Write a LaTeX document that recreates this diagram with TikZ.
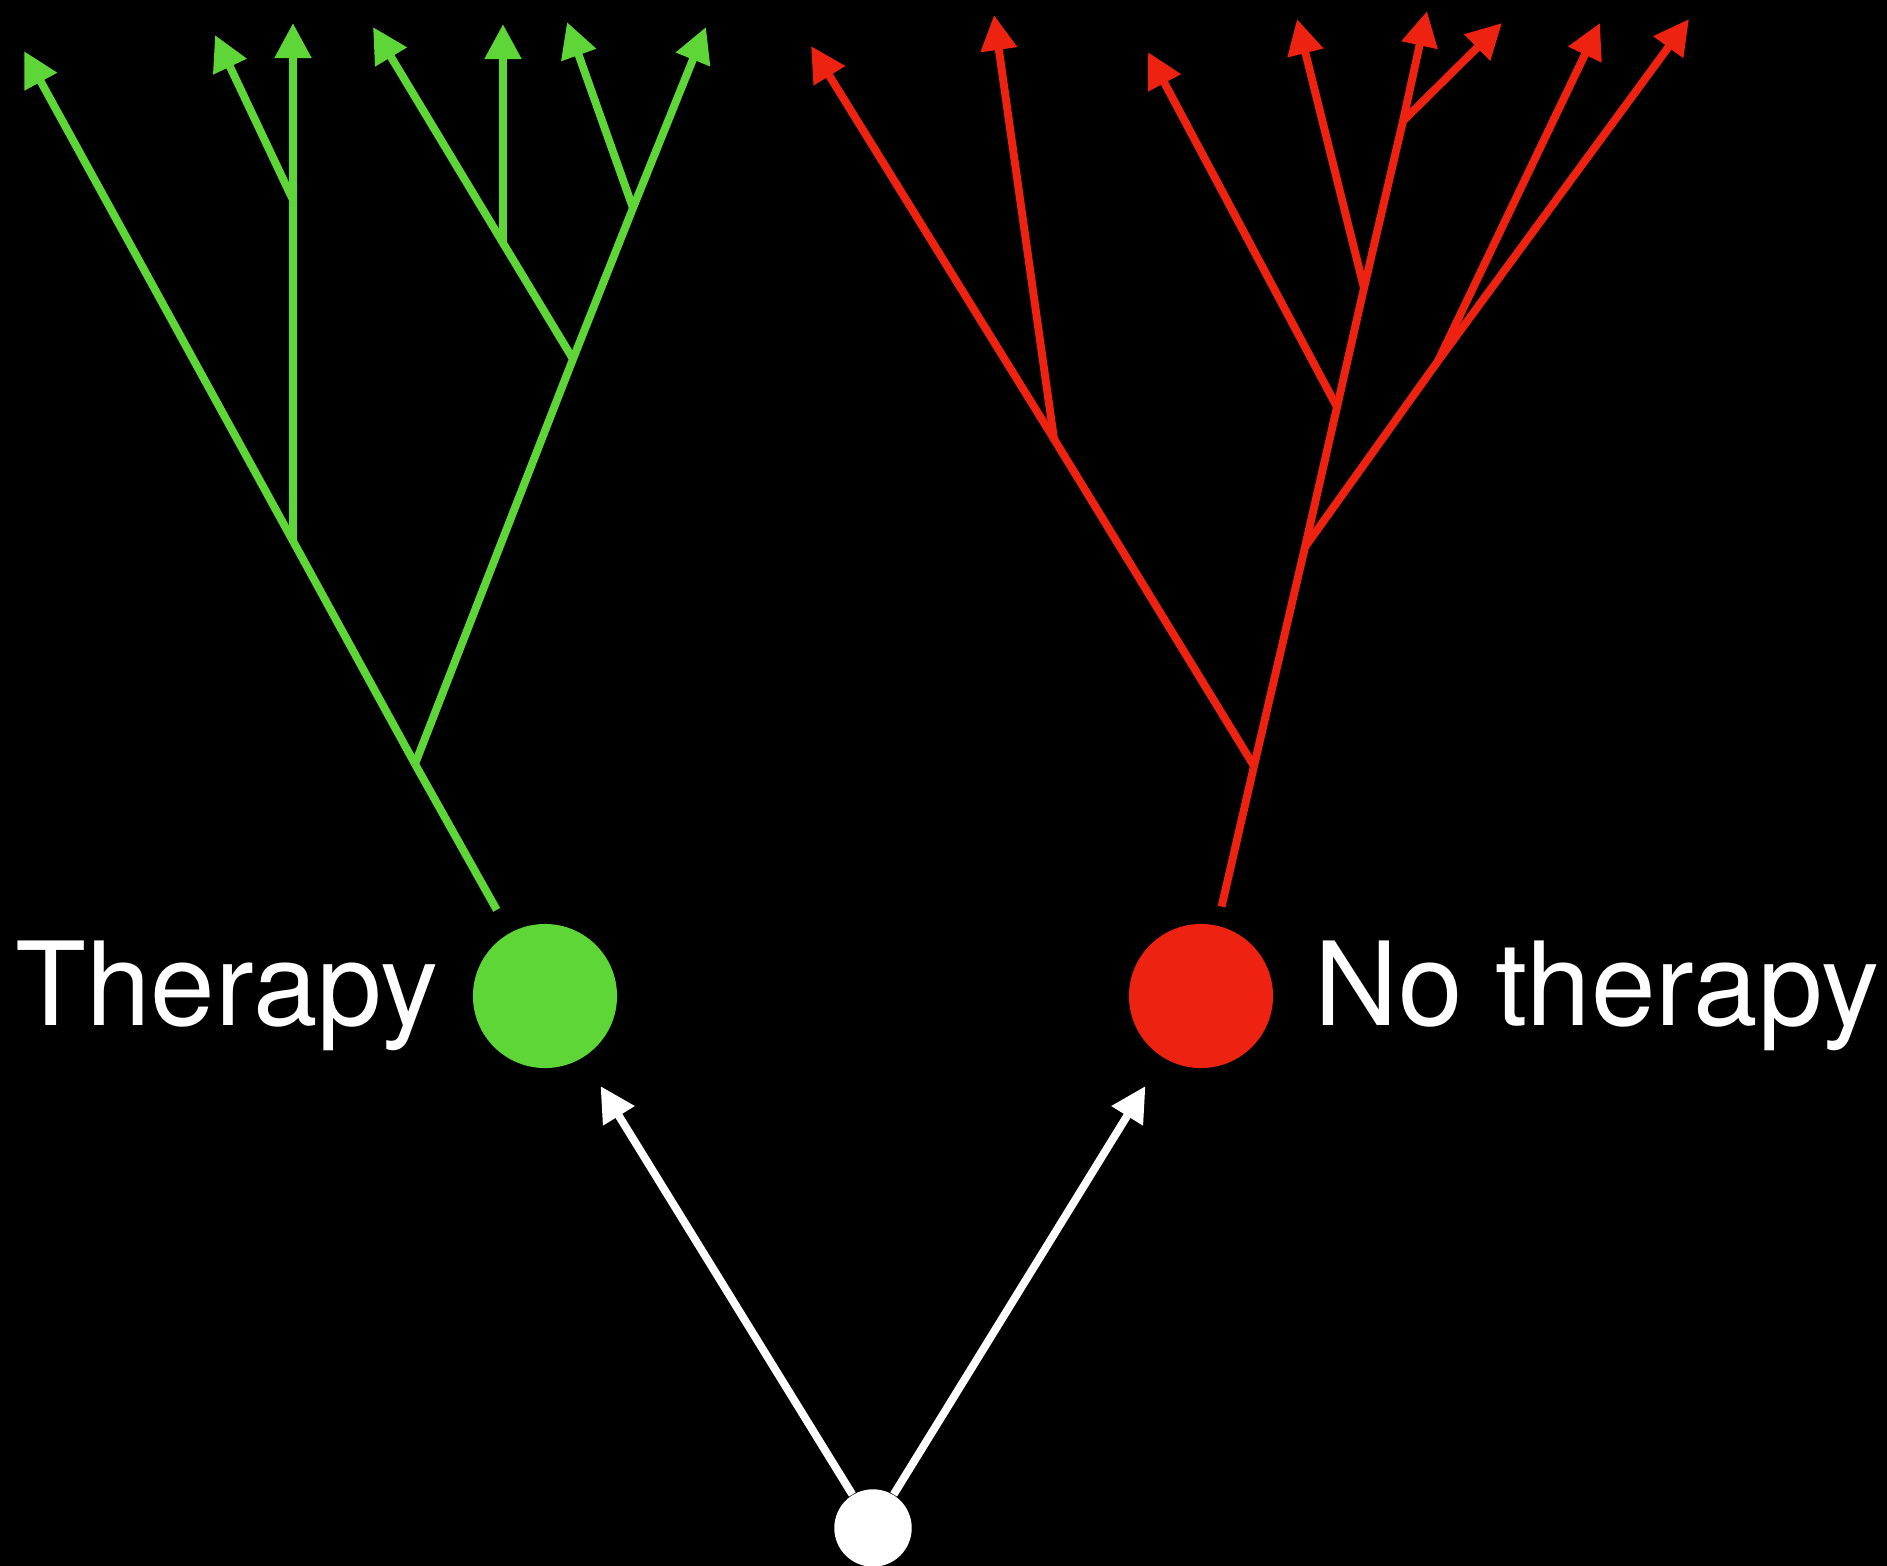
\documentclass[tikz,border=0pt]{standalone}
\usepackage{fontspec}
\setmainfont{TeX Gyre Heros}
\usepackage{tikz}
\usetikzlibrary{positioning,arrows.meta}

\definecolor{treegreen}{RGB}{94,214,56}
\definecolor{treered}{RGB}{238,34,16}

\begin{document}
\begin{tikzpicture}[
    x=0.01cm, y=-0.01cm,
    branch/.style={line width=2.25pt},
    tip/.style={-{Triangle[length=0.35cm, width=0.35cm]}},
    gline/.style={branch, draw=treegreen, fill=treegreen},
    rline/.style={branch, draw=treered, fill=treered},
    dot/.style={circle, inner sep=0pt, minimum size=1.44cm},
    lab/.style={text=white, inner sep=0pt, font=\fontsize{33}{38}\selectfont},
]
% Canvas (pixel units, y pointing down)
\useasboundingbox (0,0) rectangle (1887,1566);
\fill[black] (0,0) rectangle (1887,1566);

% Start and the two arms
\node[dot, fill=white, minimum size=0.774cm] (root) at (873,1528) {};
\node[dot, fill=treegreen] (therapy) at (545,996) {};
\node[dot, fill=treered] (notherapy) at (1201,996) {};
\node[lab, left=0.33cm of therapy] (tlab) {Therapy};
\node[lab, right=0.4cm of notherapy] (nlab) {No therapy};

\draw[branch, white, fill=white, tip, shorten >=0.33cm] (root) -- (therapy);
\draw[branch, white, fill=white, tip, shorten >=0.33cm] (root) -- (notherapy);

% Green tree: junctions and leaf tips
\coordinate (g1) at (415,764);
\coordinate (g2) at (293,541);
\coordinate (g3) at (293,200);
\coordinate (g4) at (573,359);
\coordinate (g5) at (503,243);
\coordinate (g6) at (633,208);
\coordinate (gt1) at (24,51);
\coordinate (gt2) at (215,35);
\coordinate (gt3) at (293,23);
\coordinate (gt4) at (373,27);
\coordinate (gt5) at (503,24);
\coordinate (gt6) at (567,22);
\coordinate (gt7) at (706,27);

\draw[gline, shorten <=0.26cm] (therapy) -- (g1);
\draw[gline, tip] (g1) -- (g2) -- (gt1);
\draw[gline, tip] (g2) -- (g3) -- (gt3);
\draw[gline, tip] (g3) -- (gt2);
\draw[gline, tip] (g1) -- (g4) -- (g6) -- (gt7);
\draw[gline, tip] (g4) -- (g5) -- (gt4);
\draw[gline, tip] (g5) -- (gt5);
\draw[gline, tip] (g6) -- (gt6);

% Red tree: junctions and leaf tips
\coordinate (r1) at (1254,766);
\coordinate (r2) at (1054,439);
\coordinate (r3) at (1305,547);
\coordinate (r4) at (1337,407);
\coordinate (r5) at (1364,288);
\coordinate (r6) at (1403,121);
\coordinate (r7) at (1438,361);
\coordinate (rt1) at (811,46);
\coordinate (rt2) at (994,15);
\coordinate (rt3) at (1148,52);
\coordinate (rt4) at (1297,19);
\coordinate (rt5) at (1427,11);
\coordinate (rt6) at (1502,23);
\coordinate (rt7) at (1600,23);
\coordinate (rt8) at (1689,19);

\draw[rline, shorten <=0.19cm] (notherapy) -- (r1);
\draw[rline, tip] (r1) -- (r2) -- (rt1);
\draw[rline, tip] (r2) -- (rt2);
\draw[rline, tip] (r1) -- (r3) -- (r4) -- (r5) -- (r6) -- (rt5);
\draw[rline, tip] (r4) -- (rt3);
\draw[rline, tip] (r5) -- (rt4);
\draw[rline, tip] (r6) -- (rt6);
\draw[rline, tip] (r3) -- (r7) -- (rt8);
\draw[rline, tip] (r7) -- (rt7);
\end{tikzpicture}
\end{document}
